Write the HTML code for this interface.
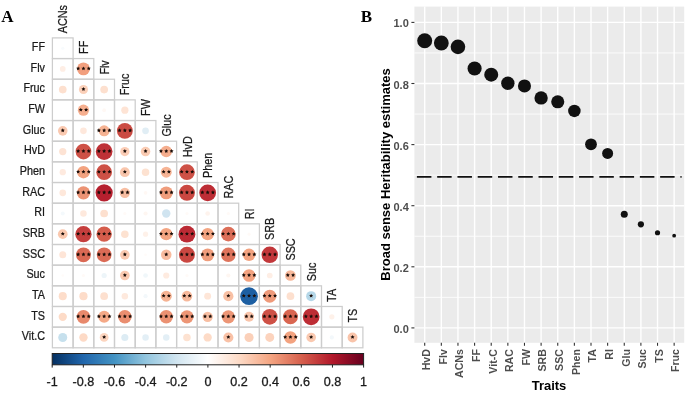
<!DOCTYPE html><html><head><meta charset="utf-8"><style>html,body{margin:0;padding:0;background:#fff;width:685px;height:393px;overflow:hidden}svg{display:block;filter:blur(0.3px)}text{font-family:"Liberation Sans",sans-serif}</style></head><body>
<svg width="685" height="393" viewBox="0 0 685 393">
<text x="1.2" y="22.2" style="font-family:'Liberation Serif',serif;font-weight:bold;font-size:17px">A</text>
<text x="360.8" y="22.4" style="font-family:'Liberation Serif',serif;font-weight:bold;font-size:17px">B</text>
<g fill="none" stroke="#cdcdcd" stroke-width="1.25"><rect x="52.40" y="37.90" width="20.70" height="20.66"/><rect x="52.40" y="58.56" width="20.70" height="20.66"/><rect x="73.10" y="58.56" width="20.70" height="20.66"/><rect x="52.40" y="79.22" width="20.70" height="20.66"/><rect x="73.10" y="79.22" width="20.70" height="20.66"/><rect x="93.80" y="79.22" width="20.70" height="20.66"/><rect x="52.40" y="99.88" width="20.70" height="20.66"/><rect x="73.10" y="99.88" width="20.70" height="20.66"/><rect x="93.80" y="99.88" width="20.70" height="20.66"/><rect x="114.50" y="99.88" width="20.70" height="20.66"/><rect x="52.40" y="120.54" width="20.70" height="20.66"/><rect x="73.10" y="120.54" width="20.70" height="20.66"/><rect x="93.80" y="120.54" width="20.70" height="20.66"/><rect x="114.50" y="120.54" width="20.70" height="20.66"/><rect x="135.20" y="120.54" width="20.70" height="20.66"/><rect x="52.40" y="141.20" width="20.70" height="20.66"/><rect x="73.10" y="141.20" width="20.70" height="20.66"/><rect x="93.80" y="141.20" width="20.70" height="20.66"/><rect x="114.50" y="141.20" width="20.70" height="20.66"/><rect x="135.20" y="141.20" width="20.70" height="20.66"/><rect x="155.90" y="141.20" width="20.70" height="20.66"/><rect x="52.40" y="161.86" width="20.70" height="20.66"/><rect x="73.10" y="161.86" width="20.70" height="20.66"/><rect x="93.80" y="161.86" width="20.70" height="20.66"/><rect x="114.50" y="161.86" width="20.70" height="20.66"/><rect x="135.20" y="161.86" width="20.70" height="20.66"/><rect x="155.90" y="161.86" width="20.70" height="20.66"/><rect x="176.60" y="161.86" width="20.70" height="20.66"/><rect x="52.40" y="182.52" width="20.70" height="20.66"/><rect x="73.10" y="182.52" width="20.70" height="20.66"/><rect x="93.80" y="182.52" width="20.70" height="20.66"/><rect x="114.50" y="182.52" width="20.70" height="20.66"/><rect x="135.20" y="182.52" width="20.70" height="20.66"/><rect x="155.90" y="182.52" width="20.70" height="20.66"/><rect x="176.60" y="182.52" width="20.70" height="20.66"/><rect x="197.30" y="182.52" width="20.70" height="20.66"/><rect x="52.40" y="203.18" width="20.70" height="20.66"/><rect x="73.10" y="203.18" width="20.70" height="20.66"/><rect x="93.80" y="203.18" width="20.70" height="20.66"/><rect x="114.50" y="203.18" width="20.70" height="20.66"/><rect x="135.20" y="203.18" width="20.70" height="20.66"/><rect x="155.90" y="203.18" width="20.70" height="20.66"/><rect x="176.60" y="203.18" width="20.70" height="20.66"/><rect x="197.30" y="203.18" width="20.70" height="20.66"/><rect x="218.00" y="203.18" width="20.70" height="20.66"/><rect x="52.40" y="223.84" width="20.70" height="20.66"/><rect x="73.10" y="223.84" width="20.70" height="20.66"/><rect x="93.80" y="223.84" width="20.70" height="20.66"/><rect x="114.50" y="223.84" width="20.70" height="20.66"/><rect x="135.20" y="223.84" width="20.70" height="20.66"/><rect x="155.90" y="223.84" width="20.70" height="20.66"/><rect x="176.60" y="223.84" width="20.70" height="20.66"/><rect x="197.30" y="223.84" width="20.70" height="20.66"/><rect x="218.00" y="223.84" width="20.70" height="20.66"/><rect x="238.70" y="223.84" width="20.70" height="20.66"/><rect x="52.40" y="244.50" width="20.70" height="20.66"/><rect x="73.10" y="244.50" width="20.70" height="20.66"/><rect x="93.80" y="244.50" width="20.70" height="20.66"/><rect x="114.50" y="244.50" width="20.70" height="20.66"/><rect x="135.20" y="244.50" width="20.70" height="20.66"/><rect x="155.90" y="244.50" width="20.70" height="20.66"/><rect x="176.60" y="244.50" width="20.70" height="20.66"/><rect x="197.30" y="244.50" width="20.70" height="20.66"/><rect x="218.00" y="244.50" width="20.70" height="20.66"/><rect x="238.70" y="244.50" width="20.70" height="20.66"/><rect x="259.40" y="244.50" width="20.70" height="20.66"/><rect x="52.40" y="265.16" width="20.70" height="20.66"/><rect x="73.10" y="265.16" width="20.70" height="20.66"/><rect x="93.80" y="265.16" width="20.70" height="20.66"/><rect x="114.50" y="265.16" width="20.70" height="20.66"/><rect x="135.20" y="265.16" width="20.70" height="20.66"/><rect x="155.90" y="265.16" width="20.70" height="20.66"/><rect x="176.60" y="265.16" width="20.70" height="20.66"/><rect x="197.30" y="265.16" width="20.70" height="20.66"/><rect x="218.00" y="265.16" width="20.70" height="20.66"/><rect x="238.70" y="265.16" width="20.70" height="20.66"/><rect x="259.40" y="265.16" width="20.70" height="20.66"/><rect x="280.10" y="265.16" width="20.70" height="20.66"/><rect x="52.40" y="285.82" width="20.70" height="20.66"/><rect x="73.10" y="285.82" width="20.70" height="20.66"/><rect x="93.80" y="285.82" width="20.70" height="20.66"/><rect x="114.50" y="285.82" width="20.70" height="20.66"/><rect x="135.20" y="285.82" width="20.70" height="20.66"/><rect x="155.90" y="285.82" width="20.70" height="20.66"/><rect x="176.60" y="285.82" width="20.70" height="20.66"/><rect x="197.30" y="285.82" width="20.70" height="20.66"/><rect x="218.00" y="285.82" width="20.70" height="20.66"/><rect x="238.70" y="285.82" width="20.70" height="20.66"/><rect x="259.40" y="285.82" width="20.70" height="20.66"/><rect x="280.10" y="285.82" width="20.70" height="20.66"/><rect x="300.80" y="285.82" width="20.70" height="20.66"/><rect x="52.40" y="306.48" width="20.70" height="20.66"/><rect x="73.10" y="306.48" width="20.70" height="20.66"/><rect x="93.80" y="306.48" width="20.70" height="20.66"/><rect x="114.50" y="306.48" width="20.70" height="20.66"/><rect x="135.20" y="306.48" width="20.70" height="20.66"/><rect x="155.90" y="306.48" width="20.70" height="20.66"/><rect x="176.60" y="306.48" width="20.70" height="20.66"/><rect x="197.30" y="306.48" width="20.70" height="20.66"/><rect x="218.00" y="306.48" width="20.70" height="20.66"/><rect x="238.70" y="306.48" width="20.70" height="20.66"/><rect x="259.40" y="306.48" width="20.70" height="20.66"/><rect x="280.10" y="306.48" width="20.70" height="20.66"/><rect x="300.80" y="306.48" width="20.70" height="20.66"/><rect x="321.50" y="306.48" width="20.70" height="20.66"/><rect x="52.40" y="327.14" width="20.70" height="20.66"/><rect x="73.10" y="327.14" width="20.70" height="20.66"/><rect x="93.80" y="327.14" width="20.70" height="20.66"/><rect x="114.50" y="327.14" width="20.70" height="20.66"/><rect x="135.20" y="327.14" width="20.70" height="20.66"/><rect x="155.90" y="327.14" width="20.70" height="20.66"/><rect x="176.60" y="327.14" width="20.70" height="20.66"/><rect x="197.30" y="327.14" width="20.70" height="20.66"/><rect x="218.00" y="327.14" width="20.70" height="20.66"/><rect x="238.70" y="327.14" width="20.70" height="20.66"/><rect x="259.40" y="327.14" width="20.70" height="20.66"/><rect x="280.10" y="327.14" width="20.70" height="20.66"/><rect x="300.80" y="327.14" width="20.70" height="20.66"/><rect x="321.50" y="327.14" width="20.70" height="20.66"/><rect x="342.20" y="327.14" width="20.70" height="20.66"/></g>
<g><circle cx="62.75" cy="48.23" r="1.60" fill="#f8fbfd"/><circle cx="62.75" cy="68.89" r="2.85" fill="#feeee5"/><circle cx="83.45" cy="68.89" r="6.40" fill="#f29f7e"/><circle cx="62.75" cy="89.55" r="3.85" fill="#fde0cf"/><circle cx="83.45" cy="89.55" r="4.55" fill="#fbd0b9"/><circle cx="104.15" cy="89.55" r="3.85" fill="#fde0cf"/><circle cx="83.45" cy="110.21" r="5.60" fill="#f6af8f"/><circle cx="104.15" cy="110.21" r="1.85" fill="#fff8f4"/><circle cx="124.85" cy="110.21" r="3.60" fill="#fee4d5"/><circle cx="62.75" cy="130.87" r="4.80" fill="#fac9b0"/><circle cx="83.45" cy="130.87" r="3.30" fill="#fee8dc"/><circle cx="104.15" cy="130.87" r="5.50" fill="#f6b393"/><circle cx="124.85" cy="130.87" r="7.95" fill="#cb4b43"/><circle cx="145.55" cy="130.87" r="3.35" fill="#e1eef5"/><circle cx="62.75" cy="151.53" r="3.65" fill="#fde3d4"/><circle cx="83.45" cy="151.53" r="7.85" fill="#ce5146"/><circle cx="104.15" cy="151.53" r="8.35" fill="#be3137"/><circle cx="124.85" cy="151.53" r="4.65" fill="#fbcdb6"/><circle cx="145.55" cy="151.53" r="4.75" fill="#facbb2"/><circle cx="166.25" cy="151.53" r="5.70" fill="#f5ad8d"/><circle cx="62.75" cy="172.19" r="3.15" fill="#feeadf"/><circle cx="83.45" cy="172.19" r="6.25" fill="#f3a380"/><circle cx="104.15" cy="172.19" r="7.85" fill="#ce5146"/><circle cx="124.85" cy="172.19" r="4.90" fill="#f9c6ac"/><circle cx="145.55" cy="172.19" r="3.75" fill="#fde2d1"/><circle cx="166.25" cy="172.19" r="5.45" fill="#f7b495"/><circle cx="186.95" cy="172.19" r="7.85" fill="#ce5146"/><circle cx="62.75" cy="192.85" r="3.35" fill="#fee8db"/><circle cx="83.45" cy="192.85" r="6.65" fill="#ec9374"/><circle cx="104.15" cy="192.85" r="8.60" fill="#b6202f"/><circle cx="124.85" cy="192.85" r="5.15" fill="#f8bea2"/><circle cx="145.55" cy="192.85" r="1.85" fill="#fff8f4"/><circle cx="166.25" cy="192.85" r="6.45" fill="#f09d7c"/><circle cx="186.95" cy="192.85" r="8.00" fill="#ca4741"/><circle cx="207.65" cy="192.85" r="8.40" fill="#bd2d35"/><circle cx="62.75" cy="213.51" r="2.00" fill="#f4f9fc"/><circle cx="83.45" cy="213.51" r="3.25" fill="#fee9dd"/><circle cx="104.15" cy="213.51" r="3.85" fill="#fde0cf"/><circle cx="124.85" cy="213.51" r="1.60" fill="#fffaf7"/><circle cx="145.55" cy="213.51" r="2.10" fill="#fef6f1"/><circle cx="166.25" cy="213.51" r="4.20" fill="#d0e4f0"/><circle cx="186.95" cy="213.51" r="1.60" fill="#fffaf7"/><circle cx="207.65" cy="213.51" r="2.35" fill="#fef3ed"/><circle cx="228.35" cy="213.51" r="1.60" fill="#fffaf7"/><circle cx="62.75" cy="234.17" r="4.85" fill="#fac8ae"/><circle cx="83.45" cy="234.17" r="8.15" fill="#c53e3d"/><circle cx="104.15" cy="234.17" r="7.65" fill="#d55d4c"/><circle cx="124.85" cy="234.17" r="3.75" fill="#fde2d1"/><circle cx="145.55" cy="234.17" r="2.60" fill="#fef1e9"/><circle cx="166.25" cy="234.17" r="6.15" fill="#f4a582"/><circle cx="186.95" cy="234.17" r="8.45" fill="#bb2a34"/><circle cx="207.65" cy="234.17" r="6.15" fill="#f4a582"/><circle cx="228.35" cy="234.17" r="7.35" fill="#dc6e58"/><circle cx="249.05" cy="234.17" r="1.60" fill="#fffaf7"/><circle cx="62.75" cy="254.83" r="3.50" fill="#fee5d7"/><circle cx="83.45" cy="254.83" r="7.45" fill="#da6954"/><circle cx="104.15" cy="254.83" r="7.40" fill="#db6b56"/><circle cx="124.85" cy="254.83" r="4.80" fill="#fac9b0"/><circle cx="145.55" cy="254.83" r="1.35" fill="#fffbf9"/><circle cx="166.25" cy="254.83" r="5.25" fill="#f8bb9e"/><circle cx="186.95" cy="254.83" r="8.00" fill="#ca4741"/><circle cx="207.65" cy="254.83" r="6.45" fill="#f09d7c"/><circle cx="228.35" cy="254.83" r="7.25" fill="#df745c"/><circle cx="249.05" cy="254.83" r="6.25" fill="#f3a380"/><circle cx="269.75" cy="254.83" r="8.25" fill="#c2373a"/><circle cx="62.75" cy="275.49" r="1.35" fill="#fffbf9"/><circle cx="83.45" cy="275.49" r="1.60" fill="#fffaf7"/><circle cx="104.15" cy="275.49" r="2.60" fill="#edf5f9"/><circle cx="124.85" cy="275.49" r="4.80" fill="#fac9b0"/><circle cx="145.55" cy="275.49" r="2.35" fill="#f0f7fa"/><circle cx="166.25" cy="275.49" r="3.10" fill="#feebe0"/><circle cx="186.95" cy="275.49" r="1.60" fill="#fffaf7"/><circle cx="228.35" cy="275.49" r="2.10" fill="#fef6f1"/><circle cx="249.05" cy="275.49" r="6.30" fill="#f3a27f"/><circle cx="269.75" cy="275.49" r="2.85" fill="#feeee5"/><circle cx="290.45" cy="275.49" r="5.35" fill="#f7b89a"/><circle cx="62.75" cy="296.15" r="4.05" fill="#fdddca"/><circle cx="83.45" cy="296.15" r="4.10" fill="#fddcc9"/><circle cx="104.15" cy="296.15" r="3.85" fill="#fde0cf"/><circle cx="124.85" cy="296.15" r="3.25" fill="#fee9dd"/><circle cx="145.55" cy="296.15" r="2.10" fill="#f3f8fb"/><circle cx="166.25" cy="296.15" r="5.50" fill="#f6b393"/><circle cx="186.95" cy="296.15" r="5.30" fill="#f7b99c"/><circle cx="207.65" cy="296.15" r="3.45" fill="#fee6d8"/><circle cx="228.35" cy="296.15" r="5.10" fill="#f8c0a4"/><circle cx="249.05" cy="296.15" r="8.85" fill="#1d5fa2"/><circle cx="269.75" cy="296.15" r="6.50" fill="#ef9a7a"/><circle cx="290.45" cy="296.15" r="3.85" fill="#fde0cf"/><circle cx="311.15" cy="296.15" r="5.00" fill="#b5d7e8"/><circle cx="62.75" cy="316.81" r="4.15" fill="#fddbc7"/><circle cx="83.45" cy="316.81" r="6.85" fill="#e8896c"/><circle cx="104.15" cy="316.81" r="5.95" fill="#f5a987"/><circle cx="124.85" cy="316.81" r="6.75" fill="#ea8e70"/><circle cx="166.25" cy="316.81" r="6.70" fill="#eb9172"/><circle cx="186.95" cy="316.81" r="6.60" fill="#ed9676"/><circle cx="207.65" cy="316.81" r="5.15" fill="#f8bea2"/><circle cx="228.35" cy="316.81" r="6.60" fill="#ed9676"/><circle cx="249.05" cy="316.81" r="4.95" fill="#f9c4aa"/><circle cx="269.75" cy="316.81" r="7.85" fill="#ce5146"/><circle cx="290.45" cy="316.81" r="7.50" fill="#d96651"/><circle cx="311.15" cy="316.81" r="8.40" fill="#bd2d35"/><circle cx="331.85" cy="316.81" r="2.60" fill="#fef1e9"/><circle cx="62.75" cy="337.47" r="4.50" fill="#c6e0ed"/><circle cx="83.45" cy="337.47" r="4.20" fill="#fddac6"/><circle cx="104.15" cy="337.47" r="4.40" fill="#fcd5bf"/><circle cx="124.85" cy="337.47" r="3.55" fill="#ddecf4"/><circle cx="145.55" cy="337.47" r="3.25" fill="#e3eff6"/><circle cx="166.25" cy="337.47" r="3.25" fill="#e3eff6"/><circle cx="186.95" cy="337.47" r="3.75" fill="#fde2d1"/><circle cx="207.65" cy="337.47" r="4.15" fill="#fddbc7"/><circle cx="228.35" cy="337.47" r="5.05" fill="#f9c1a6"/><circle cx="249.05" cy="337.47" r="4.55" fill="#fbd0b9"/><circle cx="269.75" cy="337.47" r="4.45" fill="#fcd3bd"/><circle cx="290.45" cy="337.47" r="6.25" fill="#f3a380"/><circle cx="311.15" cy="337.47" r="4.80" fill="#fac9b0"/><circle cx="331.85" cy="337.47" r="2.10" fill="#f3f8fb"/><circle cx="352.55" cy="337.47" r="4.95" fill="#f9c4aa"/></g>
<g fill="#1a0d08"><polygon points="78.15,66.39 78.77,67.64 80.15,67.84 79.15,68.81 79.38,70.19 78.15,69.54 76.92,70.19 77.15,68.81 76.15,67.84 77.53,67.64"/><polygon points="83.45,66.39 84.07,67.64 85.45,67.84 84.45,68.81 84.68,70.19 83.45,69.54 82.22,70.19 82.45,68.81 81.45,67.84 82.83,67.64"/><polygon points="88.75,66.39 89.37,67.64 90.75,67.84 89.75,68.81 89.98,70.19 88.75,69.54 87.52,70.19 87.75,68.81 86.75,67.84 88.13,67.64"/><polygon points="83.45,87.05 84.07,88.30 85.45,88.50 84.45,89.47 84.68,90.85 83.45,90.20 82.22,90.85 82.45,89.47 81.45,88.50 82.83,88.30"/><polygon points="80.80,107.71 81.42,108.96 82.80,109.16 81.80,110.13 82.03,111.51 80.80,110.86 79.57,111.51 79.80,110.13 78.80,109.16 80.18,108.96"/><polygon points="86.10,107.71 86.72,108.96 88.10,109.16 87.10,110.13 87.33,111.51 86.10,110.86 84.87,111.51 85.10,110.13 84.10,109.16 85.48,108.96"/><polygon points="62.75,128.37 63.37,129.62 64.75,129.82 63.75,130.79 63.98,132.17 62.75,131.52 61.52,132.17 61.75,130.79 60.75,129.82 62.13,129.62"/><polygon points="98.85,128.37 99.47,129.62 100.85,129.82 99.85,130.79 100.08,132.17 98.85,131.52 97.62,132.17 97.85,130.79 96.85,129.82 98.23,129.62"/><polygon points="104.15,128.37 104.77,129.62 106.15,129.82 105.15,130.79 105.38,132.17 104.15,131.52 102.92,132.17 103.15,130.79 102.15,129.82 103.53,129.62"/><polygon points="109.45,128.37 110.07,129.62 111.45,129.82 110.45,130.79 110.68,132.17 109.45,131.52 108.22,132.17 108.45,130.79 107.45,129.82 108.83,129.62"/><polygon points="119.55,128.37 120.17,129.62 121.55,129.82 120.55,130.79 120.78,132.17 119.55,131.52 118.32,132.17 118.55,130.79 117.55,129.82 118.93,129.62"/><polygon points="124.85,128.37 125.47,129.62 126.85,129.82 125.85,130.79 126.08,132.17 124.85,131.52 123.62,132.17 123.85,130.79 122.85,129.82 124.23,129.62"/><polygon points="130.15,128.37 130.77,129.62 132.15,129.82 131.15,130.79 131.38,132.17 130.15,131.52 128.92,132.17 129.15,130.79 128.15,129.82 129.53,129.62"/><polygon points="78.15,149.03 78.77,150.28 80.15,150.48 79.15,151.45 79.38,152.83 78.15,152.18 76.92,152.83 77.15,151.45 76.15,150.48 77.53,150.28"/><polygon points="83.45,149.03 84.07,150.28 85.45,150.48 84.45,151.45 84.68,152.83 83.45,152.18 82.22,152.83 82.45,151.45 81.45,150.48 82.83,150.28"/><polygon points="88.75,149.03 89.37,150.28 90.75,150.48 89.75,151.45 89.98,152.83 88.75,152.18 87.52,152.83 87.75,151.45 86.75,150.48 88.13,150.28"/><polygon points="98.85,149.03 99.47,150.28 100.85,150.48 99.85,151.45 100.08,152.83 98.85,152.18 97.62,152.83 97.85,151.45 96.85,150.48 98.23,150.28"/><polygon points="104.15,149.03 104.77,150.28 106.15,150.48 105.15,151.45 105.38,152.83 104.15,152.18 102.92,152.83 103.15,151.45 102.15,150.48 103.53,150.28"/><polygon points="109.45,149.03 110.07,150.28 111.45,150.48 110.45,151.45 110.68,152.83 109.45,152.18 108.22,152.83 108.45,151.45 107.45,150.48 108.83,150.28"/><polygon points="124.85,149.03 125.47,150.28 126.85,150.48 125.85,151.45 126.08,152.83 124.85,152.18 123.62,152.83 123.85,151.45 122.85,150.48 124.23,150.28"/><polygon points="145.55,149.03 146.17,150.28 147.55,150.48 146.55,151.45 146.78,152.83 145.55,152.18 144.32,152.83 144.55,151.45 143.55,150.48 144.93,150.28"/><polygon points="160.95,149.03 161.57,150.28 162.95,150.48 161.95,151.45 162.18,152.83 160.95,152.18 159.72,152.83 159.95,151.45 158.95,150.48 160.33,150.28"/><polygon points="166.25,149.03 166.87,150.28 168.25,150.48 167.25,151.45 167.48,152.83 166.25,152.18 165.02,152.83 165.25,151.45 164.25,150.48 165.63,150.28"/><polygon points="171.55,149.03 172.17,150.28 173.55,150.48 172.55,151.45 172.78,152.83 171.55,152.18 170.32,152.83 170.55,151.45 169.55,150.48 170.93,150.28"/><polygon points="78.15,169.69 78.77,170.94 80.15,171.14 79.15,172.11 79.38,173.49 78.15,172.84 76.92,173.49 77.15,172.11 76.15,171.14 77.53,170.94"/><polygon points="83.45,169.69 84.07,170.94 85.45,171.14 84.45,172.11 84.68,173.49 83.45,172.84 82.22,173.49 82.45,172.11 81.45,171.14 82.83,170.94"/><polygon points="88.75,169.69 89.37,170.94 90.75,171.14 89.75,172.11 89.98,173.49 88.75,172.84 87.52,173.49 87.75,172.11 86.75,171.14 88.13,170.94"/><polygon points="98.85,169.69 99.47,170.94 100.85,171.14 99.85,172.11 100.08,173.49 98.85,172.84 97.62,173.49 97.85,172.11 96.85,171.14 98.23,170.94"/><polygon points="104.15,169.69 104.77,170.94 106.15,171.14 105.15,172.11 105.38,173.49 104.15,172.84 102.92,173.49 103.15,172.11 102.15,171.14 103.53,170.94"/><polygon points="109.45,169.69 110.07,170.94 111.45,171.14 110.45,172.11 110.68,173.49 109.45,172.84 108.22,173.49 108.45,172.11 107.45,171.14 108.83,170.94"/><polygon points="124.85,169.69 125.47,170.94 126.85,171.14 125.85,172.11 126.08,173.49 124.85,172.84 123.62,173.49 123.85,172.11 122.85,171.14 124.23,170.94"/><polygon points="163.60,169.69 164.22,170.94 165.60,171.14 164.60,172.11 164.83,173.49 163.60,172.84 162.37,173.49 162.60,172.11 161.60,171.14 162.98,170.94"/><polygon points="168.90,169.69 169.52,170.94 170.90,171.14 169.90,172.11 170.13,173.49 168.90,172.84 167.67,173.49 167.90,172.11 166.90,171.14 168.28,170.94"/><polygon points="181.65,169.69 182.27,170.94 183.65,171.14 182.65,172.11 182.88,173.49 181.65,172.84 180.42,173.49 180.65,172.11 179.65,171.14 181.03,170.94"/><polygon points="186.95,169.69 187.57,170.94 188.95,171.14 187.95,172.11 188.18,173.49 186.95,172.84 185.72,173.49 185.95,172.11 184.95,171.14 186.33,170.94"/><polygon points="192.25,169.69 192.87,170.94 194.25,171.14 193.25,172.11 193.48,173.49 192.25,172.84 191.02,173.49 191.25,172.11 190.25,171.14 191.63,170.94"/><polygon points="78.15,190.35 78.77,191.60 80.15,191.80 79.15,192.77 79.38,194.15 78.15,193.50 76.92,194.15 77.15,192.77 76.15,191.80 77.53,191.60"/><polygon points="83.45,190.35 84.07,191.60 85.45,191.80 84.45,192.77 84.68,194.15 83.45,193.50 82.22,194.15 82.45,192.77 81.45,191.80 82.83,191.60"/><polygon points="88.75,190.35 89.37,191.60 90.75,191.80 89.75,192.77 89.98,194.15 88.75,193.50 87.52,194.15 87.75,192.77 86.75,191.80 88.13,191.60"/><polygon points="98.85,190.35 99.47,191.60 100.85,191.80 99.85,192.77 100.08,194.15 98.85,193.50 97.62,194.15 97.85,192.77 96.85,191.80 98.23,191.60"/><polygon points="104.15,190.35 104.77,191.60 106.15,191.80 105.15,192.77 105.38,194.15 104.15,193.50 102.92,194.15 103.15,192.77 102.15,191.80 103.53,191.60"/><polygon points="109.45,190.35 110.07,191.60 111.45,191.80 110.45,192.77 110.68,194.15 109.45,193.50 108.22,194.15 108.45,192.77 107.45,191.80 108.83,191.60"/><polygon points="122.20,190.35 122.82,191.60 124.20,191.80 123.20,192.77 123.43,194.15 122.20,193.50 120.97,194.15 121.20,192.77 120.20,191.80 121.58,191.60"/><polygon points="127.50,190.35 128.12,191.60 129.50,191.80 128.50,192.77 128.73,194.15 127.50,193.50 126.27,194.15 126.50,192.77 125.50,191.80 126.88,191.60"/><polygon points="160.95,190.35 161.57,191.60 162.95,191.80 161.95,192.77 162.18,194.15 160.95,193.50 159.72,194.15 159.95,192.77 158.95,191.80 160.33,191.60"/><polygon points="166.25,190.35 166.87,191.60 168.25,191.80 167.25,192.77 167.48,194.15 166.25,193.50 165.02,194.15 165.25,192.77 164.25,191.80 165.63,191.60"/><polygon points="171.55,190.35 172.17,191.60 173.55,191.80 172.55,192.77 172.78,194.15 171.55,193.50 170.32,194.15 170.55,192.77 169.55,191.80 170.93,191.60"/><polygon points="181.65,190.35 182.27,191.60 183.65,191.80 182.65,192.77 182.88,194.15 181.65,193.50 180.42,194.15 180.65,192.77 179.65,191.80 181.03,191.60"/><polygon points="186.95,190.35 187.57,191.60 188.95,191.80 187.95,192.77 188.18,194.15 186.95,193.50 185.72,194.15 185.95,192.77 184.95,191.80 186.33,191.60"/><polygon points="192.25,190.35 192.87,191.60 194.25,191.80 193.25,192.77 193.48,194.15 192.25,193.50 191.02,194.15 191.25,192.77 190.25,191.80 191.63,191.60"/><polygon points="202.35,190.35 202.97,191.60 204.35,191.80 203.35,192.77 203.58,194.15 202.35,193.50 201.12,194.15 201.35,192.77 200.35,191.80 201.73,191.60"/><polygon points="207.65,190.35 208.27,191.60 209.65,191.80 208.65,192.77 208.88,194.15 207.65,193.50 206.42,194.15 206.65,192.77 205.65,191.80 207.03,191.60"/><polygon points="212.95,190.35 213.57,191.60 214.95,191.80 213.95,192.77 214.18,194.15 212.95,193.50 211.72,194.15 211.95,192.77 210.95,191.80 212.33,191.60"/><polygon points="62.75,231.67 63.37,232.92 64.75,233.12 63.75,234.09 63.98,235.47 62.75,234.82 61.52,235.47 61.75,234.09 60.75,233.12 62.13,232.92"/><polygon points="78.15,231.67 78.77,232.92 80.15,233.12 79.15,234.09 79.38,235.47 78.15,234.82 76.92,235.47 77.15,234.09 76.15,233.12 77.53,232.92"/><polygon points="83.45,231.67 84.07,232.92 85.45,233.12 84.45,234.09 84.68,235.47 83.45,234.82 82.22,235.47 82.45,234.09 81.45,233.12 82.83,232.92"/><polygon points="88.75,231.67 89.37,232.92 90.75,233.12 89.75,234.09 89.98,235.47 88.75,234.82 87.52,235.47 87.75,234.09 86.75,233.12 88.13,232.92"/><polygon points="98.85,231.67 99.47,232.92 100.85,233.12 99.85,234.09 100.08,235.47 98.85,234.82 97.62,235.47 97.85,234.09 96.85,233.12 98.23,232.92"/><polygon points="104.15,231.67 104.77,232.92 106.15,233.12 105.15,234.09 105.38,235.47 104.15,234.82 102.92,235.47 103.15,234.09 102.15,233.12 103.53,232.92"/><polygon points="109.45,231.67 110.07,232.92 111.45,233.12 110.45,234.09 110.68,235.47 109.45,234.82 108.22,235.47 108.45,234.09 107.45,233.12 108.83,232.92"/><polygon points="160.95,231.67 161.57,232.92 162.95,233.12 161.95,234.09 162.18,235.47 160.95,234.82 159.72,235.47 159.95,234.09 158.95,233.12 160.33,232.92"/><polygon points="166.25,231.67 166.87,232.92 168.25,233.12 167.25,234.09 167.48,235.47 166.25,234.82 165.02,235.47 165.25,234.09 164.25,233.12 165.63,232.92"/><polygon points="171.55,231.67 172.17,232.92 173.55,233.12 172.55,234.09 172.78,235.47 171.55,234.82 170.32,235.47 170.55,234.09 169.55,233.12 170.93,232.92"/><polygon points="181.65,231.67 182.27,232.92 183.65,233.12 182.65,234.09 182.88,235.47 181.65,234.82 180.42,235.47 180.65,234.09 179.65,233.12 181.03,232.92"/><polygon points="186.95,231.67 187.57,232.92 188.95,233.12 187.95,234.09 188.18,235.47 186.95,234.82 185.72,235.47 185.95,234.09 184.95,233.12 186.33,232.92"/><polygon points="192.25,231.67 192.87,232.92 194.25,233.12 193.25,234.09 193.48,235.47 192.25,234.82 191.02,235.47 191.25,234.09 190.25,233.12 191.63,232.92"/><polygon points="202.35,231.67 202.97,232.92 204.35,233.12 203.35,234.09 203.58,235.47 202.35,234.82 201.12,235.47 201.35,234.09 200.35,233.12 201.73,232.92"/><polygon points="207.65,231.67 208.27,232.92 209.65,233.12 208.65,234.09 208.88,235.47 207.65,234.82 206.42,235.47 206.65,234.09 205.65,233.12 207.03,232.92"/><polygon points="212.95,231.67 213.57,232.92 214.95,233.12 213.95,234.09 214.18,235.47 212.95,234.82 211.72,235.47 211.95,234.09 210.95,233.12 212.33,232.92"/><polygon points="223.05,231.67 223.67,232.92 225.05,233.12 224.05,234.09 224.28,235.47 223.05,234.82 221.82,235.47 222.05,234.09 221.05,233.12 222.43,232.92"/><polygon points="228.35,231.67 228.97,232.92 230.35,233.12 229.35,234.09 229.58,235.47 228.35,234.82 227.12,235.47 227.35,234.09 226.35,233.12 227.73,232.92"/><polygon points="233.65,231.67 234.27,232.92 235.65,233.12 234.65,234.09 234.88,235.47 233.65,234.82 232.42,235.47 232.65,234.09 231.65,233.12 233.03,232.92"/><polygon points="78.15,252.33 78.77,253.58 80.15,253.78 79.15,254.75 79.38,256.13 78.15,255.48 76.92,256.13 77.15,254.75 76.15,253.78 77.53,253.58"/><polygon points="83.45,252.33 84.07,253.58 85.45,253.78 84.45,254.75 84.68,256.13 83.45,255.48 82.22,256.13 82.45,254.75 81.45,253.78 82.83,253.58"/><polygon points="88.75,252.33 89.37,253.58 90.75,253.78 89.75,254.75 89.98,256.13 88.75,255.48 87.52,256.13 87.75,254.75 86.75,253.78 88.13,253.58"/><polygon points="98.85,252.33 99.47,253.58 100.85,253.78 99.85,254.75 100.08,256.13 98.85,255.48 97.62,256.13 97.85,254.75 96.85,253.78 98.23,253.58"/><polygon points="104.15,252.33 104.77,253.58 106.15,253.78 105.15,254.75 105.38,256.13 104.15,255.48 102.92,256.13 103.15,254.75 102.15,253.78 103.53,253.58"/><polygon points="109.45,252.33 110.07,253.58 111.45,253.78 110.45,254.75 110.68,256.13 109.45,255.48 108.22,256.13 108.45,254.75 107.45,253.78 108.83,253.58"/><polygon points="124.85,252.33 125.47,253.58 126.85,253.78 125.85,254.75 126.08,256.13 124.85,255.48 123.62,256.13 123.85,254.75 122.85,253.78 124.23,253.58"/><polygon points="166.25,252.33 166.87,253.58 168.25,253.78 167.25,254.75 167.48,256.13 166.25,255.48 165.02,256.13 165.25,254.75 164.25,253.78 165.63,253.58"/><polygon points="181.65,252.33 182.27,253.58 183.65,253.78 182.65,254.75 182.88,256.13 181.65,255.48 180.42,256.13 180.65,254.75 179.65,253.78 181.03,253.58"/><polygon points="186.95,252.33 187.57,253.58 188.95,253.78 187.95,254.75 188.18,256.13 186.95,255.48 185.72,256.13 185.95,254.75 184.95,253.78 186.33,253.58"/><polygon points="192.25,252.33 192.87,253.58 194.25,253.78 193.25,254.75 193.48,256.13 192.25,255.48 191.02,256.13 191.25,254.75 190.25,253.78 191.63,253.58"/><polygon points="202.35,252.33 202.97,253.58 204.35,253.78 203.35,254.75 203.58,256.13 202.35,255.48 201.12,256.13 201.35,254.75 200.35,253.78 201.73,253.58"/><polygon points="207.65,252.33 208.27,253.58 209.65,253.78 208.65,254.75 208.88,256.13 207.65,255.48 206.42,256.13 206.65,254.75 205.65,253.78 207.03,253.58"/><polygon points="212.95,252.33 213.57,253.58 214.95,253.78 213.95,254.75 214.18,256.13 212.95,255.48 211.72,256.13 211.95,254.75 210.95,253.78 212.33,253.58"/><polygon points="223.05,252.33 223.67,253.58 225.05,253.78 224.05,254.75 224.28,256.13 223.05,255.48 221.82,256.13 222.05,254.75 221.05,253.78 222.43,253.58"/><polygon points="228.35,252.33 228.97,253.58 230.35,253.78 229.35,254.75 229.58,256.13 228.35,255.48 227.12,256.13 227.35,254.75 226.35,253.78 227.73,253.58"/><polygon points="233.65,252.33 234.27,253.58 235.65,253.78 234.65,254.75 234.88,256.13 233.65,255.48 232.42,256.13 232.65,254.75 231.65,253.78 233.03,253.58"/><polygon points="243.75,252.33 244.37,253.58 245.75,253.78 244.75,254.75 244.98,256.13 243.75,255.48 242.52,256.13 242.75,254.75 241.75,253.78 243.13,253.58"/><polygon points="249.05,252.33 249.67,253.58 251.05,253.78 250.05,254.75 250.28,256.13 249.05,255.48 247.82,256.13 248.05,254.75 247.05,253.78 248.43,253.58"/><polygon points="254.35,252.33 254.97,253.58 256.35,253.78 255.35,254.75 255.58,256.13 254.35,255.48 253.12,256.13 253.35,254.75 252.35,253.78 253.73,253.58"/><polygon points="264.45,252.33 265.07,253.58 266.45,253.78 265.45,254.75 265.68,256.13 264.45,255.48 263.22,256.13 263.45,254.75 262.45,253.78 263.83,253.58"/><polygon points="269.75,252.33 270.37,253.58 271.75,253.78 270.75,254.75 270.98,256.13 269.75,255.48 268.52,256.13 268.75,254.75 267.75,253.78 269.13,253.58"/><polygon points="275.05,252.33 275.67,253.58 277.05,253.78 276.05,254.75 276.28,256.13 275.05,255.48 273.82,256.13 274.05,254.75 273.05,253.78 274.43,253.58"/><polygon points="124.85,272.99 125.47,274.24 126.85,274.44 125.85,275.41 126.08,276.79 124.85,276.14 123.62,276.79 123.85,275.41 122.85,274.44 124.23,274.24"/><polygon points="243.75,272.99 244.37,274.24 245.75,274.44 244.75,275.41 244.98,276.79 243.75,276.14 242.52,276.79 242.75,275.41 241.75,274.44 243.13,274.24"/><polygon points="249.05,272.99 249.67,274.24 251.05,274.44 250.05,275.41 250.28,276.79 249.05,276.14 247.82,276.79 248.05,275.41 247.05,274.44 248.43,274.24"/><polygon points="254.35,272.99 254.97,274.24 256.35,274.44 255.35,275.41 255.58,276.79 254.35,276.14 253.12,276.79 253.35,275.41 252.35,274.44 253.73,274.24"/><polygon points="287.80,272.99 288.42,274.24 289.80,274.44 288.80,275.41 289.03,276.79 287.80,276.14 286.57,276.79 286.80,275.41 285.80,274.44 287.18,274.24"/><polygon points="293.10,272.99 293.72,274.24 295.10,274.44 294.10,275.41 294.33,276.79 293.10,276.14 291.87,276.79 292.10,275.41 291.10,274.44 292.48,274.24"/><polygon points="163.60,293.65 164.22,294.90 165.60,295.10 164.60,296.07 164.83,297.45 163.60,296.80 162.37,297.45 162.60,296.07 161.60,295.10 162.98,294.90"/><polygon points="168.90,293.65 169.52,294.90 170.90,295.10 169.90,296.07 170.13,297.45 168.90,296.80 167.67,297.45 167.90,296.07 166.90,295.10 168.28,294.90"/><polygon points="184.30,293.65 184.92,294.90 186.30,295.10 185.30,296.07 185.53,297.45 184.30,296.80 183.07,297.45 183.30,296.07 182.30,295.10 183.68,294.90"/><polygon points="189.60,293.65 190.22,294.90 191.60,295.10 190.60,296.07 190.83,297.45 189.60,296.80 188.37,297.45 188.60,296.07 187.60,295.10 188.98,294.90"/><polygon points="228.35,293.65 228.97,294.90 230.35,295.10 229.35,296.07 229.58,297.45 228.35,296.80 227.12,297.45 227.35,296.07 226.35,295.10 227.73,294.90"/><polygon points="243.75,293.65 244.37,294.90 245.75,295.10 244.75,296.07 244.98,297.45 243.75,296.80 242.52,297.45 242.75,296.07 241.75,295.10 243.13,294.90"/><polygon points="249.05,293.65 249.67,294.90 251.05,295.10 250.05,296.07 250.28,297.45 249.05,296.80 247.82,297.45 248.05,296.07 247.05,295.10 248.43,294.90"/><polygon points="254.35,293.65 254.97,294.90 256.35,295.10 255.35,296.07 255.58,297.45 254.35,296.80 253.12,297.45 253.35,296.07 252.35,295.10 253.73,294.90"/><polygon points="264.45,293.65 265.07,294.90 266.45,295.10 265.45,296.07 265.68,297.45 264.45,296.80 263.22,297.45 263.45,296.07 262.45,295.10 263.83,294.90"/><polygon points="269.75,293.65 270.37,294.90 271.75,295.10 270.75,296.07 270.98,297.45 269.75,296.80 268.52,297.45 268.75,296.07 267.75,295.10 269.13,294.90"/><polygon points="275.05,293.65 275.67,294.90 277.05,295.10 276.05,296.07 276.28,297.45 275.05,296.80 273.82,297.45 274.05,296.07 273.05,295.10 274.43,294.90"/><polygon points="311.15,293.65 311.77,294.90 313.15,295.10 312.15,296.07 312.38,297.45 311.15,296.80 309.92,297.45 310.15,296.07 309.15,295.10 310.53,294.90"/><polygon points="78.15,314.31 78.77,315.56 80.15,315.76 79.15,316.73 79.38,318.11 78.15,317.46 76.92,318.11 77.15,316.73 76.15,315.76 77.53,315.56"/><polygon points="83.45,314.31 84.07,315.56 85.45,315.76 84.45,316.73 84.68,318.11 83.45,317.46 82.22,318.11 82.45,316.73 81.45,315.76 82.83,315.56"/><polygon points="88.75,314.31 89.37,315.56 90.75,315.76 89.75,316.73 89.98,318.11 88.75,317.46 87.52,318.11 87.75,316.73 86.75,315.76 88.13,315.56"/><polygon points="98.85,314.31 99.47,315.56 100.85,315.76 99.85,316.73 100.08,318.11 98.85,317.46 97.62,318.11 97.85,316.73 96.85,315.76 98.23,315.56"/><polygon points="104.15,314.31 104.77,315.56 106.15,315.76 105.15,316.73 105.38,318.11 104.15,317.46 102.92,318.11 103.15,316.73 102.15,315.76 103.53,315.56"/><polygon points="109.45,314.31 110.07,315.56 111.45,315.76 110.45,316.73 110.68,318.11 109.45,317.46 108.22,318.11 108.45,316.73 107.45,315.76 108.83,315.56"/><polygon points="119.55,314.31 120.17,315.56 121.55,315.76 120.55,316.73 120.78,318.11 119.55,317.46 118.32,318.11 118.55,316.73 117.55,315.76 118.93,315.56"/><polygon points="124.85,314.31 125.47,315.56 126.85,315.76 125.85,316.73 126.08,318.11 124.85,317.46 123.62,318.11 123.85,316.73 122.85,315.76 124.23,315.56"/><polygon points="130.15,314.31 130.77,315.56 132.15,315.76 131.15,316.73 131.38,318.11 130.15,317.46 128.92,318.11 129.15,316.73 128.15,315.76 129.53,315.56"/><polygon points="160.95,314.31 161.57,315.56 162.95,315.76 161.95,316.73 162.18,318.11 160.95,317.46 159.72,318.11 159.95,316.73 158.95,315.76 160.33,315.56"/><polygon points="166.25,314.31 166.87,315.56 168.25,315.76 167.25,316.73 167.48,318.11 166.25,317.46 165.02,318.11 165.25,316.73 164.25,315.76 165.63,315.56"/><polygon points="171.55,314.31 172.17,315.56 173.55,315.76 172.55,316.73 172.78,318.11 171.55,317.46 170.32,318.11 170.55,316.73 169.55,315.76 170.93,315.56"/><polygon points="181.65,314.31 182.27,315.56 183.65,315.76 182.65,316.73 182.88,318.11 181.65,317.46 180.42,318.11 180.65,316.73 179.65,315.76 181.03,315.56"/><polygon points="186.95,314.31 187.57,315.56 188.95,315.76 187.95,316.73 188.18,318.11 186.95,317.46 185.72,318.11 185.95,316.73 184.95,315.76 186.33,315.56"/><polygon points="192.25,314.31 192.87,315.56 194.25,315.76 193.25,316.73 193.48,318.11 192.25,317.46 191.02,318.11 191.25,316.73 190.25,315.76 191.63,315.56"/><polygon points="205.00,314.31 205.62,315.56 207.00,315.76 206.00,316.73 206.23,318.11 205.00,317.46 203.77,318.11 204.00,316.73 203.00,315.76 204.38,315.56"/><polygon points="210.30,314.31 210.92,315.56 212.30,315.76 211.30,316.73 211.53,318.11 210.30,317.46 209.07,318.11 209.30,316.73 208.30,315.76 209.68,315.56"/><polygon points="223.05,314.31 223.67,315.56 225.05,315.76 224.05,316.73 224.28,318.11 223.05,317.46 221.82,318.11 222.05,316.73 221.05,315.76 222.43,315.56"/><polygon points="228.35,314.31 228.97,315.56 230.35,315.76 229.35,316.73 229.58,318.11 228.35,317.46 227.12,318.11 227.35,316.73 226.35,315.76 227.73,315.56"/><polygon points="233.65,314.31 234.27,315.56 235.65,315.76 234.65,316.73 234.88,318.11 233.65,317.46 232.42,318.11 232.65,316.73 231.65,315.76 233.03,315.56"/><polygon points="246.40,314.31 247.02,315.56 248.40,315.76 247.40,316.73 247.63,318.11 246.40,317.46 245.17,318.11 245.40,316.73 244.40,315.76 245.78,315.56"/><polygon points="251.70,314.31 252.32,315.56 253.70,315.76 252.70,316.73 252.93,318.11 251.70,317.46 250.47,318.11 250.70,316.73 249.70,315.76 251.08,315.56"/><polygon points="264.45,314.31 265.07,315.56 266.45,315.76 265.45,316.73 265.68,318.11 264.45,317.46 263.22,318.11 263.45,316.73 262.45,315.76 263.83,315.56"/><polygon points="269.75,314.31 270.37,315.56 271.75,315.76 270.75,316.73 270.98,318.11 269.75,317.46 268.52,318.11 268.75,316.73 267.75,315.76 269.13,315.56"/><polygon points="275.05,314.31 275.67,315.56 277.05,315.76 276.05,316.73 276.28,318.11 275.05,317.46 273.82,318.11 274.05,316.73 273.05,315.76 274.43,315.56"/><polygon points="285.15,314.31 285.77,315.56 287.15,315.76 286.15,316.73 286.38,318.11 285.15,317.46 283.92,318.11 284.15,316.73 283.15,315.76 284.53,315.56"/><polygon points="290.45,314.31 291.07,315.56 292.45,315.76 291.45,316.73 291.68,318.11 290.45,317.46 289.22,318.11 289.45,316.73 288.45,315.76 289.83,315.56"/><polygon points="295.75,314.31 296.37,315.56 297.75,315.76 296.75,316.73 296.98,318.11 295.75,317.46 294.52,318.11 294.75,316.73 293.75,315.76 295.13,315.56"/><polygon points="305.85,314.31 306.47,315.56 307.85,315.76 306.85,316.73 307.08,318.11 305.85,317.46 304.62,318.11 304.85,316.73 303.85,315.76 305.23,315.56"/><polygon points="311.15,314.31 311.77,315.56 313.15,315.76 312.15,316.73 312.38,318.11 311.15,317.46 309.92,318.11 310.15,316.73 309.15,315.76 310.53,315.56"/><polygon points="316.45,314.31 317.07,315.56 318.45,315.76 317.45,316.73 317.68,318.11 316.45,317.46 315.22,318.11 315.45,316.73 314.45,315.76 315.83,315.56"/><polygon points="104.15,334.97 104.77,336.22 106.15,336.42 105.15,337.39 105.38,338.77 104.15,338.12 102.92,338.77 103.15,337.39 102.15,336.42 103.53,336.22"/><polygon points="228.35,334.97 228.97,336.22 230.35,336.42 229.35,337.39 229.58,338.77 228.35,338.12 227.12,338.77 227.35,337.39 226.35,336.42 227.73,336.22"/><polygon points="285.15,334.97 285.77,336.22 287.15,336.42 286.15,337.39 286.38,338.77 285.15,338.12 283.92,338.77 284.15,337.39 283.15,336.42 284.53,336.22"/><polygon points="290.45,334.97 291.07,336.22 292.45,336.42 291.45,337.39 291.68,338.77 290.45,338.12 289.22,338.77 289.45,337.39 288.45,336.42 289.83,336.22"/><polygon points="295.75,334.97 296.37,336.22 297.75,336.42 296.75,337.39 296.98,338.77 295.75,338.12 294.52,338.77 294.75,337.39 293.75,336.42 295.13,336.22"/><polygon points="311.15,334.97 311.77,336.22 313.15,336.42 312.15,337.39 312.38,338.77 311.15,338.12 309.92,338.77 310.15,337.39 309.15,336.42 310.53,336.22"/><polygon points="352.55,334.97 353.17,336.22 354.55,336.42 353.55,337.39 353.78,338.77 352.55,338.12 351.32,338.77 351.55,337.39 350.55,336.42 351.93,336.22"/></g>
<g font-size="12" fill="#1a1a1a" stroke="#1a1a1a" stroke-width="0.25"><text transform="translate(45,51.13) scale(0.9,1)" text-anchor="end">FF</text><text transform="translate(45,71.79) scale(0.9,1)" text-anchor="end">Flv</text><text transform="translate(45,92.45) scale(0.9,1)" text-anchor="end">Fruc</text><text transform="translate(45,113.11) scale(0.9,1)" text-anchor="end">FW</text><text transform="translate(45,133.77) scale(0.9,1)" text-anchor="end">Gluc</text><text transform="translate(45,154.43) scale(0.9,1)" text-anchor="end">HvD</text><text transform="translate(45,175.09) scale(0.9,1)" text-anchor="end">Phen</text><text transform="translate(45,195.75) scale(0.9,1)" text-anchor="end">RAC</text><text transform="translate(45,216.41) scale(0.9,1)" text-anchor="end">RI</text><text transform="translate(45,237.07) scale(0.9,1)" text-anchor="end">SRB</text><text transform="translate(45,257.73) scale(0.9,1)" text-anchor="end">SSC</text><text transform="translate(45,278.39) scale(0.9,1)" text-anchor="end">Suc</text><text transform="translate(45,299.05) scale(0.9,1)" text-anchor="end">TA</text><text transform="translate(45,319.71) scale(0.9,1)" text-anchor="end">TS</text><text transform="translate(45,340.37) scale(0.9,1)" text-anchor="end">Vit.C</text><text transform="translate(67.35,33.30) rotate(-90) scale(0.9,1)">ACNs</text><text transform="translate(88.05,53.96) rotate(-90) scale(0.9,1)">FF</text><text transform="translate(108.75,74.62) rotate(-90) scale(0.9,1)">Flv</text><text transform="translate(129.45,95.28) rotate(-90) scale(0.9,1)">Fruc</text><text transform="translate(150.15,115.94) rotate(-90) scale(0.9,1)">FW</text><text transform="translate(170.85,136.60) rotate(-90) scale(0.9,1)">Gluc</text><text transform="translate(191.55,157.26) rotate(-90) scale(0.9,1)">HvD</text><text transform="translate(212.25,177.92) rotate(-90) scale(0.9,1)">Phen</text><text transform="translate(232.95,198.58) rotate(-90) scale(0.9,1)">RAC</text><text transform="translate(253.65,219.24) rotate(-90) scale(0.9,1)">RI</text><text transform="translate(274.35,239.90) rotate(-90) scale(0.9,1)">SRB</text><text transform="translate(295.05,260.56) rotate(-90) scale(0.9,1)">SSC</text><text transform="translate(315.75,281.22) rotate(-90) scale(0.9,1)">Suc</text><text transform="translate(336.45,301.88) rotate(-90) scale(0.9,1)">TA</text><text transform="translate(357.15,322.54) rotate(-90) scale(0.9,1)">TS</text></g>
<defs><linearGradient id="cb" x1="0" x2="1" y1="0" y2="0"><stop offset="0.000" stop-color="#053061"/><stop offset="0.100" stop-color="#2166AC"/><stop offset="0.200" stop-color="#4393C3"/><stop offset="0.300" stop-color="#92C5DE"/><stop offset="0.400" stop-color="#D1E5F0"/><stop offset="0.500" stop-color="#FFFFFF"/><stop offset="0.600" stop-color="#FDDBC7"/><stop offset="0.700" stop-color="#F4A582"/><stop offset="0.800" stop-color="#D6604D"/><stop offset="0.900" stop-color="#B2182B"/><stop offset="1.000" stop-color="#67001F"/></linearGradient></defs>
<rect x="52.20" y="353.50" width="311.40" height="11.30" fill="url(#cb)" stroke="#222" stroke-width="1"/>
<g stroke="#222" stroke-width="1"><line x1="52.20" x2="52.20" y1="364.80" y2="367.60"/><line x1="83.34" x2="83.34" y1="364.80" y2="367.60"/><line x1="114.48" x2="114.48" y1="364.80" y2="367.60"/><line x1="145.62" x2="145.62" y1="364.80" y2="367.60"/><line x1="176.76" x2="176.76" y1="364.80" y2="367.60"/><line x1="207.90" x2="207.90" y1="364.80" y2="367.60"/><line x1="239.04" x2="239.04" y1="364.80" y2="367.60"/><line x1="270.18" x2="270.18" y1="364.80" y2="367.60"/><line x1="301.32" x2="301.32" y1="364.80" y2="367.60"/><line x1="332.46" x2="332.46" y1="364.80" y2="367.60"/><line x1="363.60" x2="363.60" y1="364.80" y2="367.60"/></g>
<g font-size="12.6" fill="#1a1a1a" stroke="#1a1a1a" stroke-width="0.3"><text x="52.20" y="385.5" text-anchor="middle">-1</text><text x="83.34" y="385.5" text-anchor="middle">-0.8</text><text x="114.48" y="385.5" text-anchor="middle">-0.6</text><text x="145.62" y="385.5" text-anchor="middle">-0.4</text><text x="176.76" y="385.5" text-anchor="middle">-0.2</text><text x="207.90" y="385.5" text-anchor="middle">0</text><text x="239.04" y="385.5" text-anchor="middle">0.2</text><text x="270.18" y="385.5" text-anchor="middle">0.4</text><text x="301.32" y="385.5" text-anchor="middle">0.6</text><text x="332.46" y="385.5" text-anchor="middle">0.8</text><text x="363.60" y="385.5" text-anchor="middle">1</text></g>
<rect x="414.40" y="6.60" width="269.80" height="336.20" fill="#ebebeb"/>
<g stroke="#ffffff"><line x1="414.40" x2="684.20" y1="327.90" y2="327.90" stroke-width="1.40"/><line x1="414.40" x2="684.20" y1="297.35" y2="297.35" stroke-width="0.80"/><line x1="414.40" x2="684.20" y1="266.80" y2="266.80" stroke-width="1.40"/><line x1="414.40" x2="684.20" y1="236.25" y2="236.25" stroke-width="0.80"/><line x1="414.40" x2="684.20" y1="205.70" y2="205.70" stroke-width="1.40"/><line x1="414.40" x2="684.20" y1="175.15" y2="175.15" stroke-width="0.80"/><line x1="414.40" x2="684.20" y1="144.60" y2="144.60" stroke-width="1.40"/><line x1="414.40" x2="684.20" y1="114.05" y2="114.05" stroke-width="0.80"/><line x1="414.40" x2="684.20" y1="83.50" y2="83.50" stroke-width="1.40"/><line x1="414.40" x2="684.20" y1="52.95" y2="52.95" stroke-width="0.80"/><line x1="414.40" x2="684.20" y1="22.40" y2="22.40" stroke-width="1.40"/><line x1="424.70" x2="424.70" y1="6.60" y2="342.80" stroke-width="1.4"/><line x1="441.33" x2="441.33" y1="6.60" y2="342.80" stroke-width="1.4"/><line x1="457.96" x2="457.96" y1="6.60" y2="342.80" stroke-width="1.4"/><line x1="474.59" x2="474.59" y1="6.60" y2="342.80" stroke-width="1.4"/><line x1="491.22" x2="491.22" y1="6.60" y2="342.80" stroke-width="1.4"/><line x1="507.85" x2="507.85" y1="6.60" y2="342.80" stroke-width="1.4"/><line x1="524.48" x2="524.48" y1="6.60" y2="342.80" stroke-width="1.4"/><line x1="541.11" x2="541.11" y1="6.60" y2="342.80" stroke-width="1.4"/><line x1="557.74" x2="557.74" y1="6.60" y2="342.80" stroke-width="1.4"/><line x1="574.37" x2="574.37" y1="6.60" y2="342.80" stroke-width="1.4"/><line x1="591.00" x2="591.00" y1="6.60" y2="342.80" stroke-width="1.4"/><line x1="607.63" x2="607.63" y1="6.60" y2="342.80" stroke-width="1.4"/><line x1="624.26" x2="624.26" y1="6.60" y2="342.80" stroke-width="1.4"/><line x1="640.89" x2="640.89" y1="6.60" y2="342.80" stroke-width="1.4"/><line x1="657.52" x2="657.52" y1="6.60" y2="342.80" stroke-width="1.4"/><line x1="674.15" x2="674.15" y1="6.60" y2="342.80" stroke-width="1.4"/></g>
<line x1="414.40" x2="681.6" y1="176.85" y2="176.85" stroke="#111" stroke-width="1.7" stroke-dasharray="14.5 5.77" stroke-dashoffset="17.77"/>
<g fill="#111"><circle cx="424.70" cy="40.73" r="7.50"/><circle cx="441.33" cy="42.99" r="7.40"/><circle cx="457.96" cy="46.84" r="7.30"/><circle cx="474.59" cy="68.53" r="7.05"/><circle cx="491.22" cy="74.64" r="7.00"/><circle cx="507.85" cy="83.19" r="6.70"/><circle cx="524.48" cy="85.94" r="6.55"/><circle cx="541.11" cy="97.95" r="6.65"/><circle cx="557.74" cy="101.80" r="6.55"/><circle cx="574.37" cy="110.93" r="6.25"/><circle cx="591.00" cy="144.29" r="5.90"/><circle cx="607.63" cy="153.46" r="5.50"/><circle cx="624.26" cy="214.25" r="3.50"/><circle cx="640.89" cy="224.34" r="3.10"/><circle cx="657.52" cy="232.74" r="2.60"/><circle cx="674.15" cy="235.70" r="1.90"/></g>
<g stroke="#333" stroke-width="1.1"><line x1="411.40" x2="414.40" y1="327.90" y2="327.90"/><line x1="411.40" x2="414.40" y1="266.80" y2="266.80"/><line x1="411.40" x2="414.40" y1="205.70" y2="205.70"/><line x1="411.40" x2="414.40" y1="144.60" y2="144.60"/><line x1="411.40" x2="414.40" y1="83.50" y2="83.50"/><line x1="411.40" x2="414.40" y1="22.40" y2="22.40"/><line x1="424.70" x2="424.70" y1="342.80" y2="345.80"/><line x1="441.33" x2="441.33" y1="342.80" y2="345.80"/><line x1="457.96" x2="457.96" y1="342.80" y2="345.80"/><line x1="474.59" x2="474.59" y1="342.80" y2="345.80"/><line x1="491.22" x2="491.22" y1="342.80" y2="345.80"/><line x1="507.85" x2="507.85" y1="342.80" y2="345.80"/><line x1="524.48" x2="524.48" y1="342.80" y2="345.80"/><line x1="541.11" x2="541.11" y1="342.80" y2="345.80"/><line x1="557.74" x2="557.74" y1="342.80" y2="345.80"/><line x1="574.37" x2="574.37" y1="342.80" y2="345.80"/><line x1="591.00" x2="591.00" y1="342.80" y2="345.80"/><line x1="607.63" x2="607.63" y1="342.80" y2="345.80"/><line x1="624.26" x2="624.26" y1="342.80" y2="345.80"/><line x1="640.89" x2="640.89" y1="342.80" y2="345.80"/><line x1="657.52" x2="657.52" y1="342.80" y2="345.80"/><line x1="674.15" x2="674.15" y1="342.80" y2="345.80"/></g>
<g font-size="11" font-weight="bold" fill="#4d4d4d"><text x="408.8" y="332.90" text-anchor="end">0.0</text><text x="408.8" y="271.80" text-anchor="end">0.2</text><text x="408.8" y="210.70" text-anchor="end">0.4</text><text x="408.8" y="149.60" text-anchor="end">0.6</text><text x="408.8" y="88.50" text-anchor="end">0.8</text><text x="408.8" y="27.40" text-anchor="end">1.0</text><text transform="translate(430.00,349.1) rotate(-90) scale(0.965,1)" text-anchor="end">HvD</text><text transform="translate(446.63,349.1) rotate(-90) scale(0.965,1)" text-anchor="end">Flv</text><text transform="translate(463.26,349.1) rotate(-90) scale(0.965,1)" text-anchor="end">ACNs</text><text transform="translate(479.89,349.1) rotate(-90) scale(0.965,1)" text-anchor="end">FF</text><text transform="translate(496.52,349.1) rotate(-90) scale(0.965,1)" text-anchor="end">Vit-C</text><text transform="translate(513.15,349.1) rotate(-90) scale(0.965,1)" text-anchor="end">RAC</text><text transform="translate(529.78,349.1) rotate(-90) scale(0.965,1)" text-anchor="end">FW</text><text transform="translate(546.41,349.1) rotate(-90) scale(0.965,1)" text-anchor="end">SRB</text><text transform="translate(563.04,349.1) rotate(-90) scale(0.965,1)" text-anchor="end">SSC</text><text transform="translate(579.67,349.1) rotate(-90) scale(0.965,1)" text-anchor="end">Phen</text><text transform="translate(596.30,349.1) rotate(-90) scale(0.965,1)" text-anchor="end">TA</text><text transform="translate(612.93,349.1) rotate(-90) scale(0.965,1)" text-anchor="end">RI</text><text transform="translate(629.56,349.1) rotate(-90) scale(0.965,1)" text-anchor="end">Glu</text><text transform="translate(646.19,349.1) rotate(-90) scale(0.965,1)" text-anchor="end">Suc</text><text transform="translate(662.82,349.1) rotate(-90) scale(0.965,1)" text-anchor="end">TS</text><text transform="translate(679.45,349.1) rotate(-90) scale(0.965,1)" text-anchor="end">Fruc</text></g>
<text x="549" y="390" text-anchor="middle" font-size="13" font-weight="bold" fill="#000">Traits</text>
<text transform="translate(390.3,174.5) rotate(-90)" text-anchor="middle" font-size="13" font-weight="bold" fill="#000">Broad sense Heritability estimates</text>
</svg></body></html>
